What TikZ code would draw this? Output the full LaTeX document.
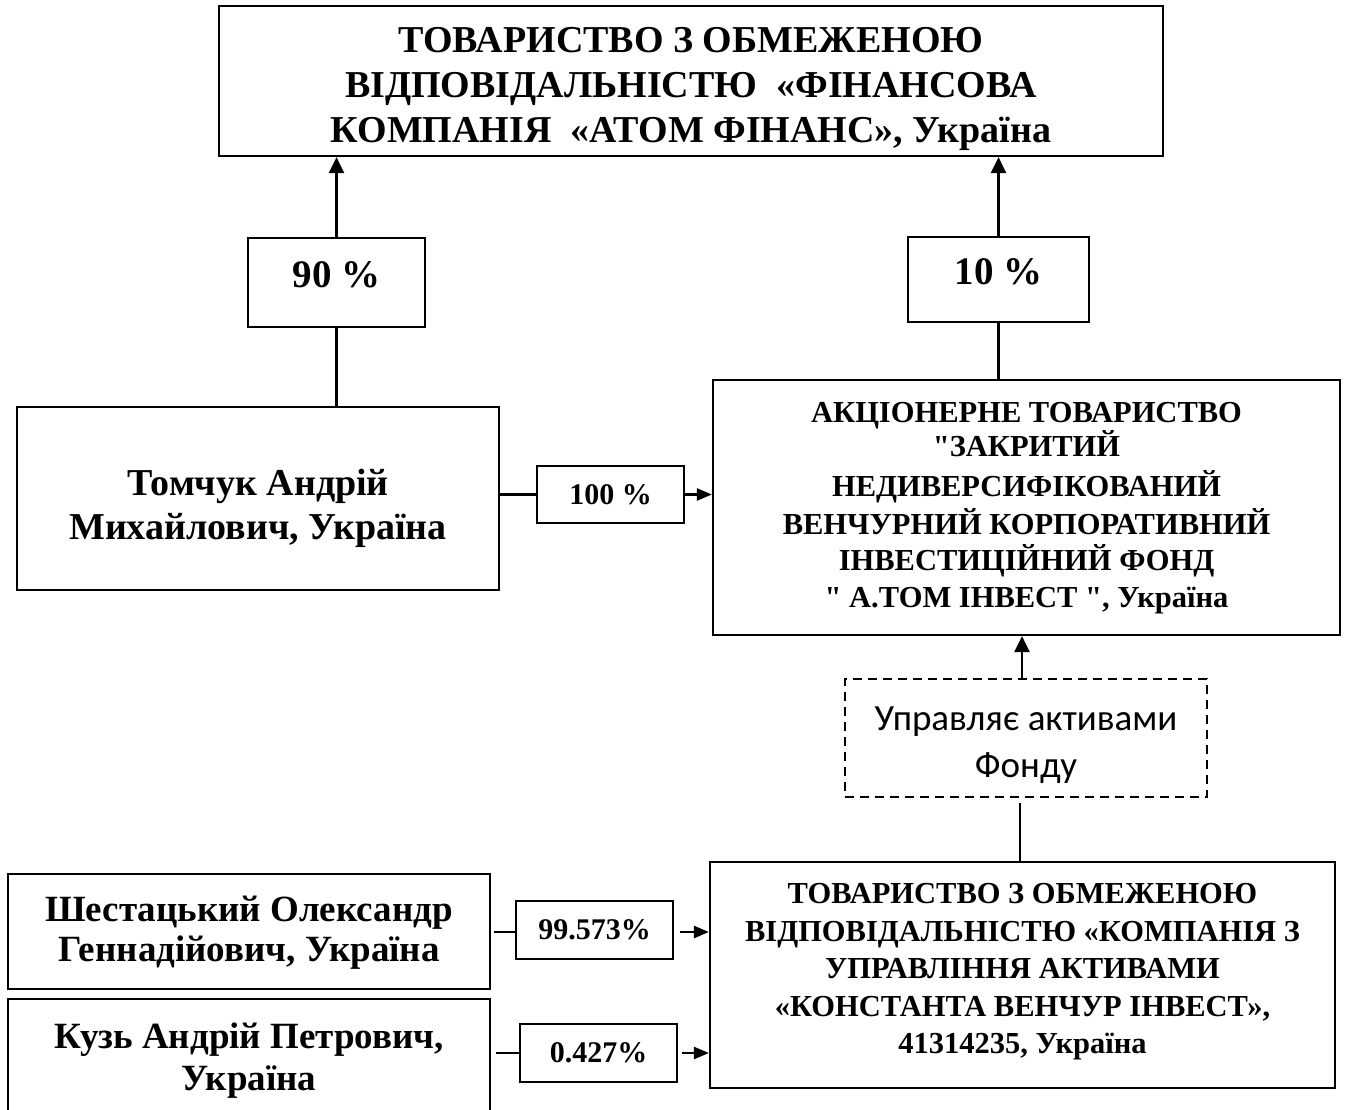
\documentclass[tikz,border=0pt]{standalone}
\usepackage{fontspec}
\setmainfont{Liberation Serif}[Ligatures=TeXOff]
\newfontfamily\calib{Carlito}
\usetikzlibrary{arrows.meta,positioning,calc}
\begin{document}
\begin{tikzpicture}[x=1pt,y=-1pt,
  box/.style={draw,line width=2.2pt,inner sep=0pt},
  pct/.style={draw,line width=2pt,inner sep=0pt,align=center,font=\bfseries},
  txt/.style={inner sep=0pt,align=center},
  conn/.style={line width=2.2pt},
  arr/.style={line width=2.4pt,-{Triangle[length=16pt,width=15pt]}},
  sarr/.style={line width=2.4pt,-{Triangle[length=15pt,width=12pt]}}]
\clip (0,0) rectangle (1346,1110);
\fill[white] (0,0) rectangle (1346,1110);

% top company
\node[box,minimum width=944pt,minimum height=150pt] (top) at (691,81) {};
\node[txt,font=\fontsize{38}{45}\selectfont\bfseries] (topT) at (691,89)
  {ТОВАРИСТВО З ОБМЕЖЕНОЮ\\ВІДПОВІДАЛЬНІСТЮ \ «ФІНАНСОВА\\КОМПАНІЯ \ «АТОМ ФІНАНС», Україна};

% percentage boxes
\node[box,line width=2pt,minimum width=177pt,minimum height=89pt] (p90) at (336.5,282.5) {};
\node[txt,font=\fontsize{39}{40}\selectfont\bfseries] (p90T) at (336.5,274.5) {90 \%};
\node[box,line width=2pt,minimum width=181pt,minimum height=85pt] (p10) at (998.5,279.5) {};
\node[txt,font=\fontsize{39}{40}\selectfont\bfseries] (p10T) at (998.5,271.5) {10 \%};

% Tomchuk
\node[box,minimum width=482pt,minimum height=183pt] (tom) at (258,498.5) {};
\node[txt,font=\fontsize{38}{44}\selectfont\bfseries] (tomT) at (258,508.5)
  {Томчук Андрій\\Михайлович, Україна};

% 100% box
\node[pct,minimum width=147pt,minimum height=57pt,font=\fontsize{30}{30}\selectfont\bfseries] (p100) at (610.5,494.5) {100 \%};

% Fund
\node[box,minimum width=627pt,minimum height=255pt] (fund) at (1026.5,507.5) {};
\node[txt,font=\fontsize{30.5}{37}\selectfont\bfseries] (fundT) at (1026.5,508.5)
  {АКЦІОНЕРНЕ ТОВАРИСТВО\\[-3pt]"ЗАКРИТИЙ\\[2.5pt]НЕДИВЕРСИФІКОВАНИЙ\\[1.5pt]ВЕНЧУРНИЙ КОРПОРАТИВНИЙ\\[-1pt]ІНВЕСТИЦІЙНИЙ ФОНД\\[0pt]" А.ТОМ ІНВЕСТ ", Україна};

% dashed box
\node[draw,dashed,dash pattern=on 9pt off 6pt,line width=2pt,minimum width=362pt,minimum height=118pt,
  inner sep=0pt] (mng) at (1026,738) {};
\node[txt,font=\fontsize{37}{47}\selectfont\calib] (mngT) at (1026,745)
  {Управляє активами\\Фонду};

% KVI company
\node[box,minimum width=625pt,minimum height=226pt] (kvi) at (1022.5,975) {};
\node[txt,font=\fontsize{30.5}{37.5}\selectfont\bfseries] (kviT) at (1022.5,972)
  {ТОВАРИСТВО З ОБМЕЖЕНОЮ\\ВІДПОВІДАЛЬНІСТЮ «КОМПАНІЯ З\\УПРАВЛІННЯ АКТИВАМИ\\«КОНСТАНТА ВЕНЧУР ІНВЕСТ»,\\41314235, Україна};

% Shestatskyi
\node[box,minimum width=482pt,minimum height=115pt] (shes) at (249,931.5) {};
\node[txt,font=\fontsize{37}{40}\selectfont\bfseries] (shesT) at (249,933)
  {Шестацький Олександр\\Геннадійович, Україна};

% Kuz (box runs off the bottom edge)
\node[box,minimum width=482pt,minimum height=140pt,anchor=north] (kuz) at (249,998) {};
\node[txt,font=\fontsize{37}{42}\selectfont\bfseries] (kuzT) at (249,1061)
  {Кузь Андрій Петрович,\\Україна};

% small percentage boxes
\node[pct,minimum width=157pt,minimum height=58pt,font=\fontsize{30}{30}\selectfont\bfseries] (p99) at (594.5,930) {99.573\%};
\node[pct,minimum width=157pt,minimum height=58pt,font=\fontsize{30}{30}\selectfont\bfseries] (p04) at (598.5,1053) {0.427\%};

% connectors
\draw[arr] (p90.north) -- (p90.north |- top.south);
\draw[conn] (tom.north -| p90.south) -- (p90.south);
\draw[arr] (p10.north) -- (p10.north |- top.south);
\draw[conn] (fund.north -| p10.south) -- (p10.south);

\draw[conn] (tom.east |- p100.west) -- (p100.west);
\draw[sarr] (p100.east) -- (p100.east -| fund.west);

\coordinate (mtop) at (1022,679);
\draw[arr] (mtop) -- (mtop |- fund.south);
\coordinate (mbot) at (1020,803);
\draw[conn] (mbot |- kvi.north) -- (mbot);

\coordinate (s1) at (494,932);
\draw[conn] (s1) -- (s1 -| p99.west);
\draw[sarr] ($(p99.east)+(6,2)$) -- ($(p99.east -| kvi.west)+(0,2)$);
\coordinate (s2) at (496,1053);
\draw[conn] (s2) -- (s2 -| p04.west);
\draw[sarr] ($(p04.east)+(4,0)$) -- (p04.east -| kvi.west);
\end{tikzpicture}
\end{document}
